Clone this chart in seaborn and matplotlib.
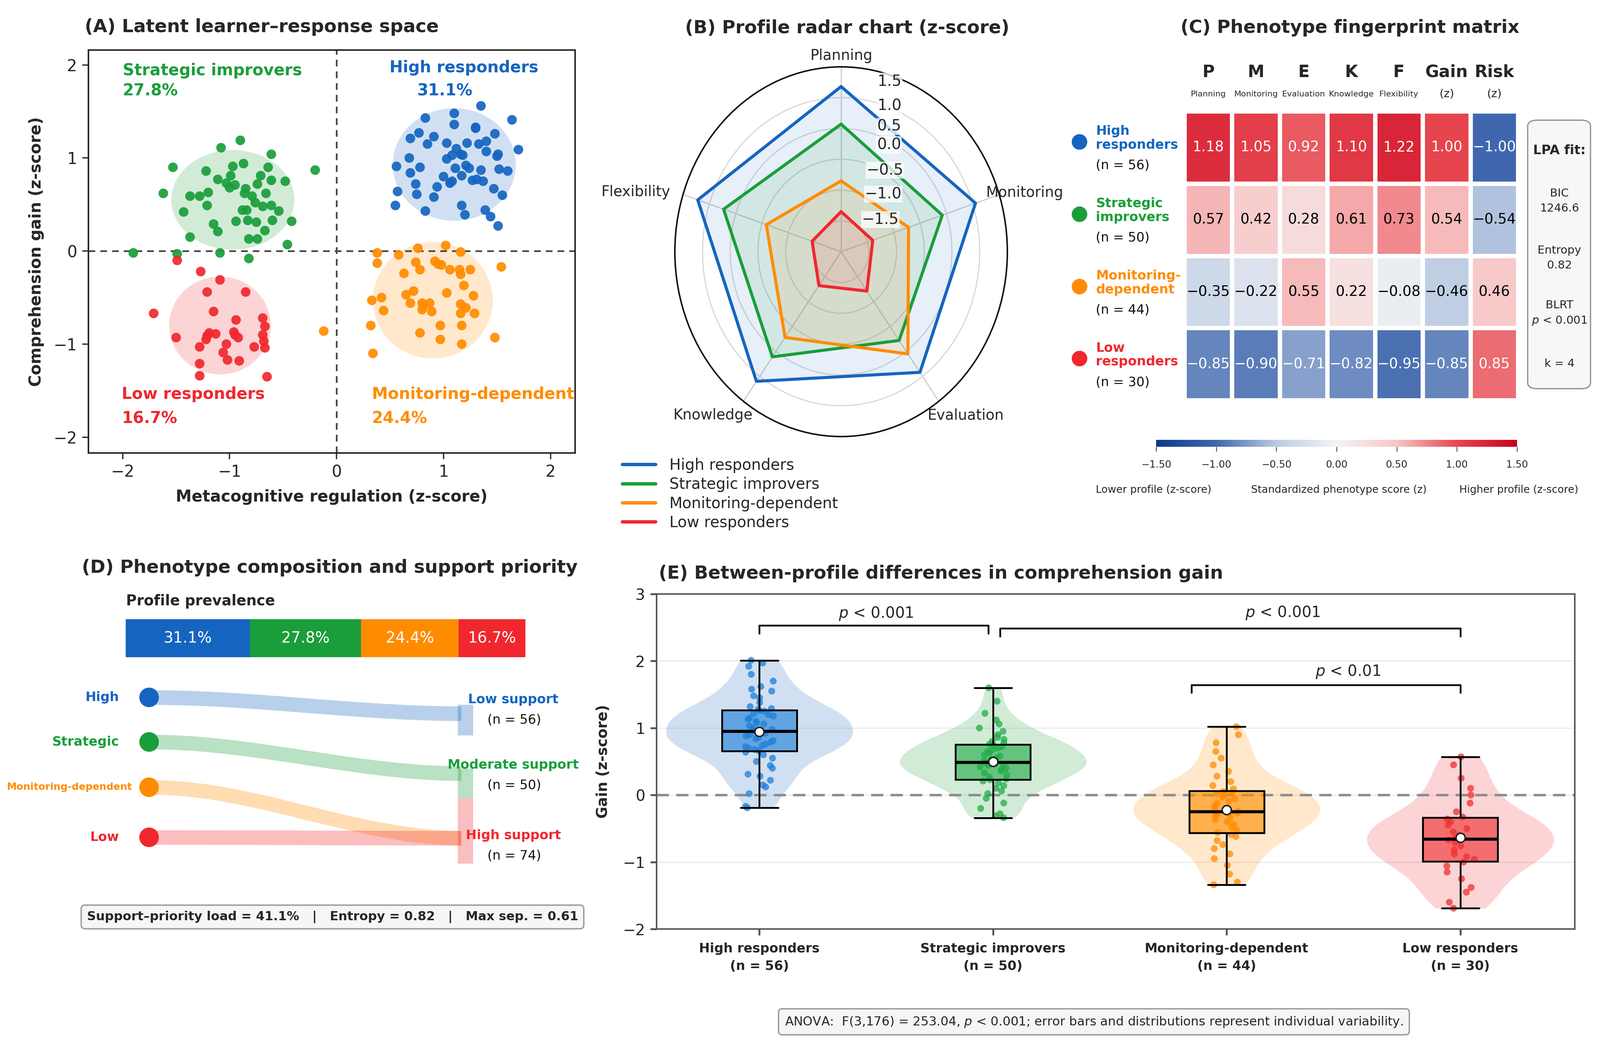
import numpy as np
import pandas as pd
import matplotlib
matplotlib.use("Agg")
import matplotlib.pyplot as plt
import seaborn as sns
from matplotlib.patches import Ellipse, FancyBboxPatch, Rectangle
from matplotlib.colors import LinearSegmentedColormap, Normalize
from matplotlib.cm import ScalarMappable
from matplotlib.lines import Line2D

# ---------------------------------------------------------------- data
profiles = ["High responders", "Strategic improvers", "Monitoring-dependent", "Low responders"]
short_names = ["High", "Strategic", "Monitoring-dependent", "Low"]
row_names = ["High\nresponders", "Strategic\nimprovers", "Monitoring-\ndependent", "Low\nresponders"]
profile_n = [56, 50, 44, 30]
prevalence = [31.1, 27.8, 24.4, 16.7]
colors = ["#1565C0", "#1A9E3A", "#FF8C00", "#F0282D"]
strip_colors = ["#1F7FD8", "#22AD4A", "#FF8C00", "#F03030"]

# Panel A: latent space points (metacognitive regulation x, comprehension gain y)
high_x = [1.35, 0.83, 1.10, 1.64, 1.10, 1.30, 0.77, 1.48, 0.91, 0.69,
          1.70, 0.85, 1.03, 1.22, 1.33, 1.40, 1.51, 1.12, 0.68, 1.03,
          1.08, 1.18, 0.78, 0.56, 1.11, 1.21, 1.24, 1.35, 1.52, 1.60,
          0.69, 1.00, 1.17, 1.08, 1.27, 1.37, 0.74, 0.94, 0.57, 0.75,
          0.91, 1.47, 1.55, 0.55, 1.17, 0.83, 1.20, 1.39, 1.44, 1.51,
          1.06, 1.31, 1.16, 1.40, 1.50, 1.30]
high_y = [1.56, 1.43, 1.48, 1.41, 1.36, 1.33, 1.27, 1.26, 1.23, 1.21,
          1.09, 1.15, 1.16, 1.16, 1.15, 1.07, 1.04, 1.10, 1.00, 0.99,
          1.03, 1.03, 0.90, 0.91, 0.89, 0.92, 0.89, 0.87, 0.88, 0.86,
          0.84, 0.80, 0.81, 0.75, 0.76, 0.75, 0.72, 0.69, 0.64, 0.61,
          0.58, 0.67, 0.60, 0.49, 0.49, 0.43, 0.39, 0.44, 0.37, 0.27,
          0.73, 0.77, 1.04, 1.18, 1.02, 1.32]
strat_x = [-0.90, -1.08, -0.61, -1.53, -0.20, -1.22, -0.97, -0.87, -0.64, -0.99,
           -0.48, -0.61, -1.03, -1.11, -0.71, -0.74, -0.85, -1.62, -1.37, -1.28,
           -1.20, -0.66, -0.86, -0.79, -0.76, -0.95, -1.00, -1.21, -0.69, -0.61,
           -1.43, -0.54, -0.88, -0.84, -0.94, -0.83, -0.75, -0.60, -0.42, -1.15,
           -1.11, -0.67, -1.37, -0.82, -0.74, -0.46, -1.90, -1.49, -1.09, -0.82]
strat_y = [1.19, 1.11, 1.04, 0.90, 0.87, 0.86, 0.91, 0.94, 0.90, 0.81,
           0.75, 0.76, 0.73, 0.77, 0.81, 0.72, 0.67, 0.62, 0.59, 0.59,
           0.63, 0.62, 0.62, 0.59, 0.52, 0.71, 0.68, 0.49, 0.48, 0.49,
           0.42, 0.43, 0.44, 0.44, 0.32, 0.33, 0.31, 0.33, 0.32, 0.29,
           0.21, 0.22, 0.15, 0.13, 0.13, 0.07, -0.02, -0.03, -0.02, -0.08]
mon_x = [1.02, 0.76, 0.38, 0.58, 1.16, 0.92, 0.38, 0.74, 0.98, 1.06,
         1.15, 1.25, 1.54, 0.78, 0.63, 1.16, 1.19, 1.03, 0.65, 1.28,
         0.33, 0.42, 0.69, 0.80, 0.87, 1.16, 0.80, 0.89, 1.16, 1.29,
         0.44, 0.32, 0.97, 1.17, 0.78, 0.97, 1.48, 1.17, 0.34, -0.12,
         1.21, 0.81, 0.95, 0.72]
mon_y = [0.06, 0.03, -0.02, -0.04, -0.01, -0.11, -0.13, -0.12, -0.15, -0.20,
         -0.20, -0.20, -0.17, -0.20, -0.24, -0.25, -0.37, -0.45, -0.47, -0.48,
         -0.53, -0.50, -0.56, -0.56, -0.56, -0.57, -0.63, -0.65, -0.67, -0.67,
         -0.64, -0.80, -0.80, -0.80, -0.88, -0.95, -0.93, -1.00, -1.10, -0.86,
         -0.61, -0.59, -0.14, -0.43]
low_x = [-1.49, -1.27, -1.09, -1.21, -0.85, -1.71, -1.15, -0.94, -0.69, -1.13,
         -0.96, -1.21, -0.92, -1.50, -0.69, -0.68, -1.03, -1.28, -0.77, -0.67,
         -1.06, -1.02, -0.91, -1.28, -1.28, -0.65, -1.22, -0.95, -1.19, -0.67]
low_y = [-0.10, -0.22, -0.31, -0.44, -0.44, -0.67, -0.65, -0.74, -0.72, -0.89,
         -0.87, -0.91, -0.93, -0.93, -0.90, -0.97, -1.00, -1.03, -1.03, -1.04,
         -1.09, -1.17, -1.18, -1.21, -1.34, -1.35, -0.95, -0.90, -0.88, -0.81]
# profile ellipses (centre, width, height) in z units
ell_cx = [1.10, -0.97, 0.90, -1.09]
ell_cy = [0.93, 0.55, -0.53, -0.80]
ell_w = [1.15, 1.15, 1.12, 0.95]
ell_h = [1.21, 1.07, 1.25, 1.05]

# Panels B/C: phenotype fingerprint
dims = ["Planning", "Monitoring", "Evaluation", "Knowledge", "Flexibility"]
col_letters = ["P", "M", "E", "K", "F", "Gain", "Risk"]
col_subs = ["Planning", "Monitoring", "Evaluation", "Knowledge", "Flexibility", "(z)", "(z)"]
fingerprint = [[1.18, 1.05, 0.92, 1.10, 1.22, 1.00, -1.00],
               [0.57, 0.42, 0.28, 0.61, 0.73, 0.54, -0.54],
               [-0.35, -0.22, 0.55, 0.22, -0.08, -0.46, 0.46],
               [-0.85, -0.90, -0.71, -0.82, -0.95, -0.85, 0.85]]
radar_ticks = [-1.5, -1.0, -0.5, 0.0, 0.5, 1.0, 1.5]
cbar_ticks = [-1.5, -1.0, -0.5, 0.0, 0.5, 1.0, 1.5]
lpa_fit = ["BIC\n1246.6", "Entropy\n0.82", "BLRT\n$p$ < 0.001", "k = 4"]

# Panel D
support_labels = ["Low support", "Moderate support", "High support"]
support_n = [56, 50, 74]
summary_text = "Support\u2013priority load = 41.1%   |   Entropy = 0.82   |   Max sep. = 0.61"

# Panel E: comprehension gain per profile
gain_high = [-0.19, -0.17, 0.02, 0.12, 0.15, 0.22, 0.28, 0.31, 0.40, 0.44, 0.50, 0.55, 0.60, 0.64,
             0.66, 0.68, 0.70, 0.72, 0.74, 0.76, 0.79, 0.81, 0.84, 0.86, 0.88, 0.90, 0.92, 0.94,
             0.96, 0.98, 1.00, 1.03, 1.06, 1.08, 1.10, 1.13, 1.15, 1.18, 1.20, 1.22, 1.25, 1.26,
             1.28, 1.29, 1.32, 1.38, 1.45, 1.48, 1.55, 1.58, 1.62, 1.70, 1.80, 1.92, 1.97, 2.01]
gain_strat = [-0.34, -0.31, -0.28, -0.20, -0.12, -0.05, 0.02, 0.06, 0.10, 0.14, 0.18, 0.21,
              0.23, 0.24, 0.27, 0.30, 0.33, 0.36, 0.38, 0.40, 0.42, 0.44, 0.46, 0.47, 0.48,
              0.49, 0.51, 0.53, 0.55, 0.58, 0.60, 0.63, 0.65, 0.68, 0.70, 0.72, 0.74,
              0.76, 0.78, 0.80, 0.83, 0.86, 0.90, 0.95, 1.00, 1.06, 1.12, 1.22, 1.40, 1.60]
gain_mon = [-1.34, -1.30, -1.18, -1.05, -0.95, -0.88, -0.80, -0.74, -0.68, -0.62, -0.59,
            -0.56, -0.52, -0.48, -0.44, -0.40, -0.37, -0.34, -0.31, -0.29, -0.27, -0.26,
            -0.24, -0.20, -0.16, -0.12, -0.09, -0.06, -0.03, 0.00, 0.02, 0.04, 0.05,
            0.09, 0.14, 0.20, 0.28, 0.35, 0.45, 0.55, 0.65, 0.78, 0.90, 1.02]
gain_low = [-1.69, -1.60, -1.45, -1.38, -1.25, -1.15, -1.06, -1.00,
            -0.96, -0.92, -0.88, -0.82, -0.76, -0.71, -0.67,
            -0.65, -0.60, -0.55, -0.50, -0.45, -0.40, -0.36,
            -0.33, -0.25, -0.12, 0.00, 0.10, 0.25, 0.45, 0.57]
sig_labels = ["$p$ < 0.001", "$p$ < 0.001", "$p$ < 0.01"]
anova_text = ("ANOVA:  F(3,176) = 253.04, $p$ < 0.001; error bars and distributions "
              "represent individual variability.")

# ---------------------------------------------------------------- style
sns.set_theme(style="white")
plt.rcParams["font.family"] = ["DejaVu Sans"]
plt.rcParams["mathtext.fontset"] = "dejavusans"
plt.rcParams["axes.unicode_minus"] = True

W, H, DPI = 4379, 2866, 300
fig = plt.figure(figsize=(W / DPI, H / DPI), dpi=DPI)
fig.patch.set_facecolor("white")


def fx(px):
    return px / W


def fy(py):
    return 1 - py / H


def box(x0, y0, x1, y1):
    return [fx(x0), fy(y1), fx(x1) - fx(x0), fy(y0) - fy(y1)]


TITLE = 12

# ---------------------------------------------------------------- (A)
axA = fig.add_axes(box(242, 137, 1574, 1240))
for k in range(4):
    axA.add_patch(Ellipse((ell_cx[k], ell_cy[k]), ell_w[k], ell_h[k],
                          facecolor=colors[k], alpha=0.2, edgecolor="none", zorder=1))
dfA = pd.DataFrame({
    "x": high_x + strat_x + mon_x + low_x,
    "y": high_y + strat_y + mon_y + low_y,
    "profile": ([profiles[0]] * len(high_x) + [profiles[1]] * len(strat_x)
                + [profiles[2]] * len(mon_x) + [profiles[3]] * len(low_x)),
})
sns.scatterplot(data=dfA, x="x", y="y", hue="profile", hue_order=profiles,
                palette=colors, s=40, alpha=0.92, edgecolor="none",
                legend=False, ax=axA, zorder=3)
axA.axhline(0, color="#444444", ls=(0, (4, 3)), lw=1.1, zorder=2)
axA.axvline(0, color="#444444", ls=(0, (4, 3)), lw=1.1, zorder=2)
axA.set_xlim(-2.32, 2.23)
axA.set_ylim(-2.17, 2.16)
axA.set_xticks([-2, -1, 0, 1, 2])
axA.set_yticks([-2, -1, 0, 1, 2])
axA.tick_params(labelsize=10.5, length=4, width=0.9, direction="out",
                bottom=True, left=True, color="#333333")
for s in axA.spines.values():
    s.set_color("#222222")
    s.set_linewidth(1.0)
axA.set_xlabel("Metacognitive regulation (z-score)", fontsize=10.5, fontweight="bold", labelpad=6)
axA.set_ylabel("Comprehension gain (z-score)", fontsize=10.5, fontweight="bold", labelpad=6)
A_lab = [(1.19, 1.97, 1.01, 1.72, "center"), (-2.0, 1.94, -2.0, 1.72, "left"),
         (0.33, -1.54, 0.33, -1.80, "left"), (-2.01, -1.54, -2.01, -1.80, "left")]
for k in range(4):
    x1, y1, x2, y2, ha = A_lab[k]
    axA.text(x1, y1, profiles[k], color=colors[k], fontsize=10.5, fontweight="bold", ha=ha, va="center")
    axA.text(x2, y2, f"{prevalence[k]:.1f}%", color=colors[k], fontsize=10.5,
             fontweight="bold", ha=ha, va="center")
fig.text(fx(232), fy(74), "(A) Latent learner\u2013response space", fontsize=TITLE,
         fontweight="bold", ha="left", va="center")

# ---------------------------------------------------------------- (B)
axB = fig.add_axes(box(1847, 183, 2757, 1195), projection="polar")
axB.set_aspect("auto")
axB.set_theta_offset(np.pi / 2)
axB.set_theta_direction(-1)
angles = np.linspace(0, 2 * np.pi, len(dims), endpoint=False)
ang_closed = np.concatenate([angles, angles[:1]])
for k in range(4):
    vals = np.array(fingerprint[k][:5])
    vals = np.concatenate([vals, vals[:1]])
    axB.fill(ang_closed, vals, color=colors[k], alpha=0.1, lw=0, zorder=2)
    axB.plot(ang_closed, vals, color=colors[k], lw=2.0, zorder=3)
axB.set_ylim(-1.5, 1.5)
axB.set_yticks(radar_ticks)
axB.set_yticklabels([])
axB.set_xticks(angles)
axB.set_xticklabels([])
axB.yaxis.grid(True, color="#d9d9d9", lw=0.8)
axB.xaxis.grid(True, color="#cfcfcf", lw=0.8)
axB.spines["polar"].set_color("#111111")
axB.spines["polar"].set_linewidth(1.0)
axB.set_facecolor("white")
dim_pos = [(0.5, 1.03), (1.052, 0.659), (0.874, 0.057), (0.114, 0.057), (-0.118, 0.661)]
for d, (px, py) in zip(dims, dim_pos):
    axB.text(px, py, d, transform=axB.transAxes, fontsize=9.5, ha="center", va="center")
rl_pos = [(0.618, 0.587), (0.627, 0.656), (0.632, 0.720), (0.644, 0.789),
          (0.644, 0.839), (0.646, 0.895), (0.646, 0.961)]
for t, (px, py) in zip(radar_ticks, rl_pos):
    axB.text(px, py, f"{t:.1f}".replace("-", "\u2212"), transform=axB.transAxes,
             fontsize=10, ha="center", va="center", zorder=5,
             bbox=dict(boxstyle="square,pad=0.05", fc="white", ec="none", alpha=0.75))
handles = [Line2D([0], [0], color=c, lw=2.2) for c in colors]
fig.legend(handles, profiles, loc="upper left", bbox_to_anchor=(fx(1686), fy(1236)),
           frameon=False, fontsize=10, handlelength=2.2, handletextpad=0.9,
           labelspacing=0.25, borderaxespad=0.0)
fig.text(fx(2319), fy(77), "(B) Profile radar chart (z-score)", fontsize=TITLE,
         fontweight="bold", ha="center", va="center")

# ---------------------------------------------------------------- (C)
cmap = LinearSegmentedColormap.from_list(
    "pheno", [(0.0, "#0a3a8c"), (1 / 6, "#4168ad"), (2 / 6, "#bccbe3"), (0.5, "#f4f4f4"),
              (4 / 6, "#f8c6c6"), (5 / 6, "#e6464f"), (1.0, "#c8001c")])
axC = fig.add_axes(box(3242, 305, 4155, 1096))
matC = pd.DataFrame(fingerprint, index=profiles, columns=col_letters)
annot = np.array([[f"{v:.2f}".replace("-", "\u2212") for v in row] for row in fingerprint])
sns.heatmap(matC, ax=axC, cmap=cmap, vmin=-1.5, vmax=1.5, cbar=False,
            linewidths=2.5, linecolor="white", annot=annot, fmt="",
            annot_kws=dict(fontsize=9.3))
flat = [v for row in fingerprint for v in row]
for t, v in zip(axC.texts, flat):
    t.set_color("white" if (v >= 0.8 or v <= -0.7) else "black")
axC.set_xticks([])
axC.set_yticks([])
for j in range(len(col_letters)):
    axC.text(j + 0.5, -0.54, col_letters[j], ha="center", va="center",
             fontsize=11, fontweight="bold", clip_on=False)
    axC.text(j + 0.5, -0.24, col_subs[j], ha="center", va="center",
             fontsize=5.4 if j < 5 else 7.5, clip_on=False)
for i in range(4):
    axC.scatter([-2.21], [i + 0.42], s=85, color=colors[i], clip_on=False, zorder=5)
    axC.text(-1.86, i + 0.37, row_names[i], color=colors[i], fontsize=8.5,
             fontweight="bold", ha="left", va="center", linespacing=1.15, clip_on=False)
    axC.text(-1.86, i + 0.75, f"(n = {profile_n[i]})", color="#111111", fontsize=8.5,
             ha="left", va="center", clip_on=False)
caxC = fig.add_axes(box(3164, 1204, 4152, 1223))
cb = fig.colorbar(ScalarMappable(norm=Normalize(-1.5, 1.5), cmap=cmap), cax=caxC,
                  orientation="horizontal")
cb.set_ticks(cbar_ticks)
cb.set_ticklabels([f"{t:.2f}".replace("-", "\u2212") for t in cbar_ticks])
cb.ax.tick_params(labelsize=6.5, length=3, width=0.6, color="#555555", pad=6)
cb.outline.set_visible(False)
fig.text(fx(2999), fy(1341), "Lower profile (z-score)", fontsize=6.8, ha="left", va="center")
fig.text(fx(3664), fy(1341), "Standardized phenotype score (z)", fontsize=6.8, ha="center", va="center")
fig.text(fx(4320), fy(1341), "Higher profile (z-score)", fontsize=6.8, ha="right", va="center")
fig.patches.append(FancyBboxPatch((fx(4181), fy(1064)), fx(4353) - fx(4181), fy(329) - fy(1064),
                                  boxstyle="round,pad=0,rounding_size=0.006",
                                  transform=fig.transFigure, facecolor="#f7f7f7",
                                  edgecolor="#9a9a9a", lw=0.9, zorder=0))
fig.text(fx(4268), fy(412), "LPA fit:", fontsize=8.5, fontweight="bold", ha="center", va="center")
for txt, py in zip(lpa_fit, [550, 706, 858, 995]):
    fig.text(fx(4268), fy(py), txt, fontsize=7.4, ha="center", va="center", linespacing=1.5)
fig.text(fx(3695), fy(76), "(C) Phenotype fingerprint matrix", fontsize=TITLE,
         fontweight="bold", ha="center", va="center")

# ---------------------------------------------------------------- (D)
fig.text(fx(903), fy(1554), "(D) Phenotype composition and support priority", fontsize=TITLE,
         fontweight="bold", ha="center", va="center")
fig.text(fx(345), fy(1646), "Profile prevalence", fontsize=9.5, fontweight="bold",
         ha="left", va="center")
axBar = fig.add_axes(box(344, 1695, 1438, 1799))
lefts = np.concatenate([[0], np.cumsum(prevalence)[:-1]])
axBar.barh([0] * 4, prevalence, left=lefts, color=colors, height=1.0, edgecolor="none")
for k in range(4):
    axBar.text(lefts[k] + prevalence[k] / 2, 0, f"{prevalence[k]:.1f}%", color="white",
               fontsize=10, ha="center", va="center")
axBar.set_xlim(0, sum(prevalence))
axBar.set_ylim(-0.5, 0.5)
axBar.axis("off")

axF = fig.add_axes(box(0, 1850, 1650, 2420))
axF.set_xlim(0, 1650)
axF.set_ylim(2420, 1850)
axF.axis("off")
y_left = [1909, 2031, 2155, 2292]
y_right = [1953, 2117, 2294, 2294]
band_half = 20
xs = np.linspace(415, 1262, 300)
u = (xs - xs[0]) / (xs[-1] - xs[0])
smooth = u * u * (3 - 2 * u)
for k in range(4):
    yc = y_left[k] + (y_right[k] - y_left[k]) * smooth
    axF.fill_between(xs, yc - band_half, yc + band_half, color=colors[k], alpha=0.3, lw=0, zorder=1)
sup_top = [1929, 2104, 2185]
sup_h = [84, 81, 179]
sup_col = [colors[0], colors[1], colors[3]]
for j in range(3):
    axF.add_patch(Rectangle((1253, sup_top[j]), 42, sup_h[j], facecolor=sup_col[j], alpha=0.3,
                            edgecolor="none", zorder=2))
axF.scatter([408] * 4, y_left, s=165, color=colors, zorder=4, edgecolors="none")
lab_x = [326, 326, 362, 326]
for k in range(4):
    axF.text(lab_x[k], y_left[k], short_names[k], color=colors[k], ha="right", va="center",
             fontsize=6.5 if k == 2 else 8.5, fontweight="bold")
sup_lab_y = [1915, 2094, 2287]
for j in range(3):
    axF.text(1405, sup_lab_y[j], support_labels[j], color=sup_col[j], ha="center",
             va="center", fontsize=8.5, fontweight="bold", zorder=5)
    axF.text(1408, sup_lab_y[j] + 56, f"(n = {support_n[j]})", color="#111111",
             ha="center", va="center", fontsize=8.5, zorder=5)
fig.text(fx(910), fy(2510), summary_text, fontsize=8.2, fontweight="bold", ha="center",
         va="center", bbox=dict(boxstyle="round,pad=0.45,rounding_size=0.3", fc="#f6f6f6",
                                ec="#9a9a9a", lw=0.9))

# ---------------------------------------------------------------- (E)
axE = fig.add_axes(box(1797, 1626, 4310, 2543))
gains = [gain_high, gain_strat, gain_mon, gain_low]
dfE = pd.DataFrame({
    "profile": np.repeat(profiles, [len(g) for g in gains]),
    "gain": np.concatenate(gains),
})
sns.violinplot(data=dfE, x="profile", y="gain", hue="profile", order=profiles,
               hue_order=profiles, palette=colors, saturation=1, cut=0, inner=None,
               density_norm="width", width=0.8, linewidth=0, alpha=0.2,
               bw_adjust=0.75, legend=False, ax=axE)
sns.stripplot(data=dfE, x="profile", y="gain", hue="profile", order=profiles,
              hue_order=profiles, palette=strip_colors, jitter=0.06, size=4.5,
              alpha=0.75, legend=False, ax=axE, zorder=2)
sns.boxplot(data=dfE, x="profile", y="gain", hue="profile", order=profiles,
            hue_order=profiles, palette=strip_colors, saturation=1, width=0.32,
            whis=(0, 100), showfliers=False, showmeans=True, linecolor="black",
            linewidth=1.2,
            meanprops=dict(marker="o", markerfacecolor="white", markeredgecolor="#222222",
                           markersize=6, markeredgewidth=1.0),
            medianprops=dict(color="black", linewidth=2.0),
            legend=False, ax=axE)
for p in axE.patches:
    fc = p.get_facecolor()
    p.set_facecolor((fc[0], fc[1], fc[2], 0.62))
    p.set_zorder(3)
for ln in axE.lines:
    ln.set_zorder(4)
axE.axhline(0, color="#8c8c8c", ls=(0, (5, 3)), lw=1.6, zorder=1.5)
axE.set_ylim(-2, 3)
axE.set_xlim(-0.44, 3.49)
axE.set_yticks([-2, -1, 0, 1, 2, 3])
axE.yaxis.grid(True, color="#ececec", lw=0.8)
axE.set_axisbelow(True)
axE.set_xticks(range(4))
axE.set_xticklabels([f"{p}\n(n = {n})" for p, n in zip(profiles, profile_n)],
                    fontsize=8.5, fontweight="bold", linespacing=1.5)
axE.tick_params(axis="x", length=4, pad=5, bottom=True, color="#555555")
axE.tick_params(axis="y", labelsize=10, length=4, left=True, color="#555555")
axE.set_xlabel("")
axE.set_ylabel("Gain (z-score)", fontsize=9.5, fontweight="bold", labelpad=8)
for s in axE.spines.values():
    s.set_color("#555555")
    s.set_linewidth(1.0)
brackets = [(0.0, 0.98, 2.53, 0.12, 0.5, 2.71),
            (1.03, 3.0, 2.49, 0.12, 2.24, 2.72),
            (1.85, 3.0, 1.64, 0.11, 2.52, 1.84)]
for (x1, x2, yb, h, xt, yt), lab in zip(brackets, sig_labels):
    axE.plot([x1, x1, x2, x2], [yb - h, yb, yb, yb - h], color="#111111", lw=1.2, zorder=5)
    axE.text(xt, yt, lab, ha="center", va="center", fontsize=10)
fig.text(fx(1803), fy(1570), "(E) Between-profile differences in comprehension gain",
         fontsize=TITLE, fontweight="bold", ha="left", va="center")
fig.text(fx(2994), fy(2797), anova_text, fontsize=8.2, ha="center", va="center",
         bbox=dict(boxstyle="round,pad=0.5,rounding_size=0.3", fc="#f5f5f5", ec="#9a9a9a", lw=0.9))

fig.savefig("out.png", dpi=DPI, facecolor="white")
